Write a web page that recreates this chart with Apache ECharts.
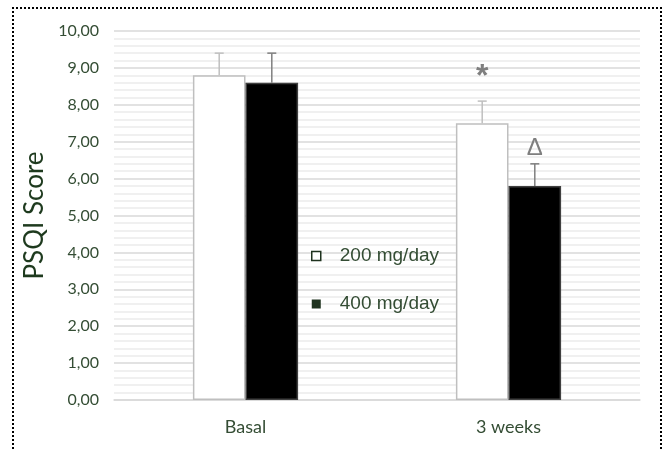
<!DOCTYPE html>
<html><head><meta charset="utf-8">
<script src="https://cdn.jsdelivr.net/npm/echarts@6/dist/echarts.min.js"></script>
<style>
html,body{margin:0;padding:0;background:#fff;}
#c{position:absolute;left:0;top:0;width:670px;height:450px;}
#frame{position:absolute;left:12px;top:7px;width:646px;height:470px;border:2px dotted #000;pointer-events:none;}
</style></head>
<body>
<div id="c"></div><div id="frame"></div>
<script>
const categories = ['Basal', '3 weeks'];
const seriesNames = ['200 mg/day', '400 mg/day'];
const values200 = [8.8, 7.5];
const values400 = [8.6, 5.8];
const err200 = [0.6, 0.6];
const err400 = [0.8, 0.6];
const marks200 = ['', '*'];
const marks400 = ['', 'Δ'];
const yTicks = [0,1,2,3,4,5,6,7,8,9,10];

const txt = '#344d34';
const font = 'Lato, "Open Sans", sans-serif';
const chart = echarts.init(document.getElementById('c'));

function errSeries(vals, errs, marks, side, color) {
  return {
    type: 'custom', z: 5, silent: true,
    data: vals.map((v, i) => [i, v, v + errs[i]]),
    renderItem: function (params, api) {
      const band = api.size([1, 0])[0];
      const off = band * 0.1 * side;
      const base = api.coord([api.value(0), api.value(1)]);
      const top = api.coord([api.value(0), api.value(2)]);
      const x = base[0] + off;
      const children = [
        {type: 'line', shape: {x1: x, y1: base[1], x2: x, y2: top[1]}, style: {stroke: color, lineWidth: 1.5}},
        {type: 'line', shape: {x1: x - 4.5, y1: top[1], x2: x + 4.5, y2: top[1]}, style: {stroke: color, lineWidth: 1.5}}
      ];
      const m = marks[params.dataIndex];
      if (m === '*') {
        children.push({type: 'text', style: {text: m, x: x, y: top[1] - 8, align: 'center', verticalAlign: 'bottom',
          fill: '#7f7f7f', font: 'bold 32px "Liberation Sans", sans-serif'}});
      } else if (m) {
        children.push({type: 'text', style: {text: m, x: x, y: top[1] - 3, align: 'center', verticalAlign: 'bottom',
          fill: '#7f7f7f', font: '24px "Liberation Sans", sans-serif'}});
      }
      return {type: 'group', children: children};
    }
  };
}

chart.setOption({
  animation: false,
  grid: {left: 114, right: 30, top: 31, bottom: 50},
  legend: {
    orient: 'vertical', left: 306, top: 240, itemGap: 26, itemWidth: 9, itemHeight: 9,
    textStyle: {color: txt, fontSize: 19, fontFamily: '"Liberation Sans", Arial, sans-serif', padding: [0, 0, 0, 14], lineHeight: 22},
    data: [
      {name: seriesNames[0], icon: 'path://M1,1L8,1L8,8L1,8Z', itemStyle: {color: '#fff', borderColor: '#1e321e', borderWidth: 1.5}},
      {name: seriesNames[1], icon: 'rect', itemStyle: {color: '#1e321e', borderWidth: 0}}
    ]
  },
  xAxis: {
    type: 'category', data: categories,
    axisLine: {lineStyle: {color: '#d9d9d9', width: 1.5}},
    axisTick: {show: false},
    axisLabel: {color: txt, fontSize: 18, fontFamily: font, margin: 18}
  },
  yAxis: {
    type: 'value', min: yTicks[0], max: yTicks[yTicks.length - 1], interval: 1,
    name: 'PSQI Score', nameLocation: 'middle', nameGap: 60, nameRotate: 90,
    nameTextStyle: {color: '#1e3a1e', fontSize: 26, fontFamily: font},
    axisLabel: {color: txt, fontSize: 16, fontFamily: font, margin: 15, formatter: v => v.toFixed(2).replace('.', ',')},
    axisLine: {show: false}, axisTick: {show: false},
    splitLine: {lineStyle: {color: '#d9d9d9', width: 1.5}},
    minorTick: {show: false, splitNumber: 5},
    minorSplitLine: {show: true, lineStyle: {color: '#ececec', width: 1.5}}
  },
  series: [
    {name: seriesNames[0], type: 'bar', data: values200, barWidth: '20%', barGap: '0%',
     itemStyle: {color: '#ffffff', borderColor: '#bfbfbf', borderWidth: 1.5}},
    {name: seriesNames[1], type: 'bar', data: values400, barWidth: '20%', barGap: '0%',
     itemStyle: {color: '#000000', borderColor: '#404040', borderWidth: 1.5}},
    errSeries(values200, err200, marks200, -1, '#bfbfbf'),
    errSeries(values400, err400, marks400, 1, '#7f7f7f')
  ]
});
</script>
</body></html>
